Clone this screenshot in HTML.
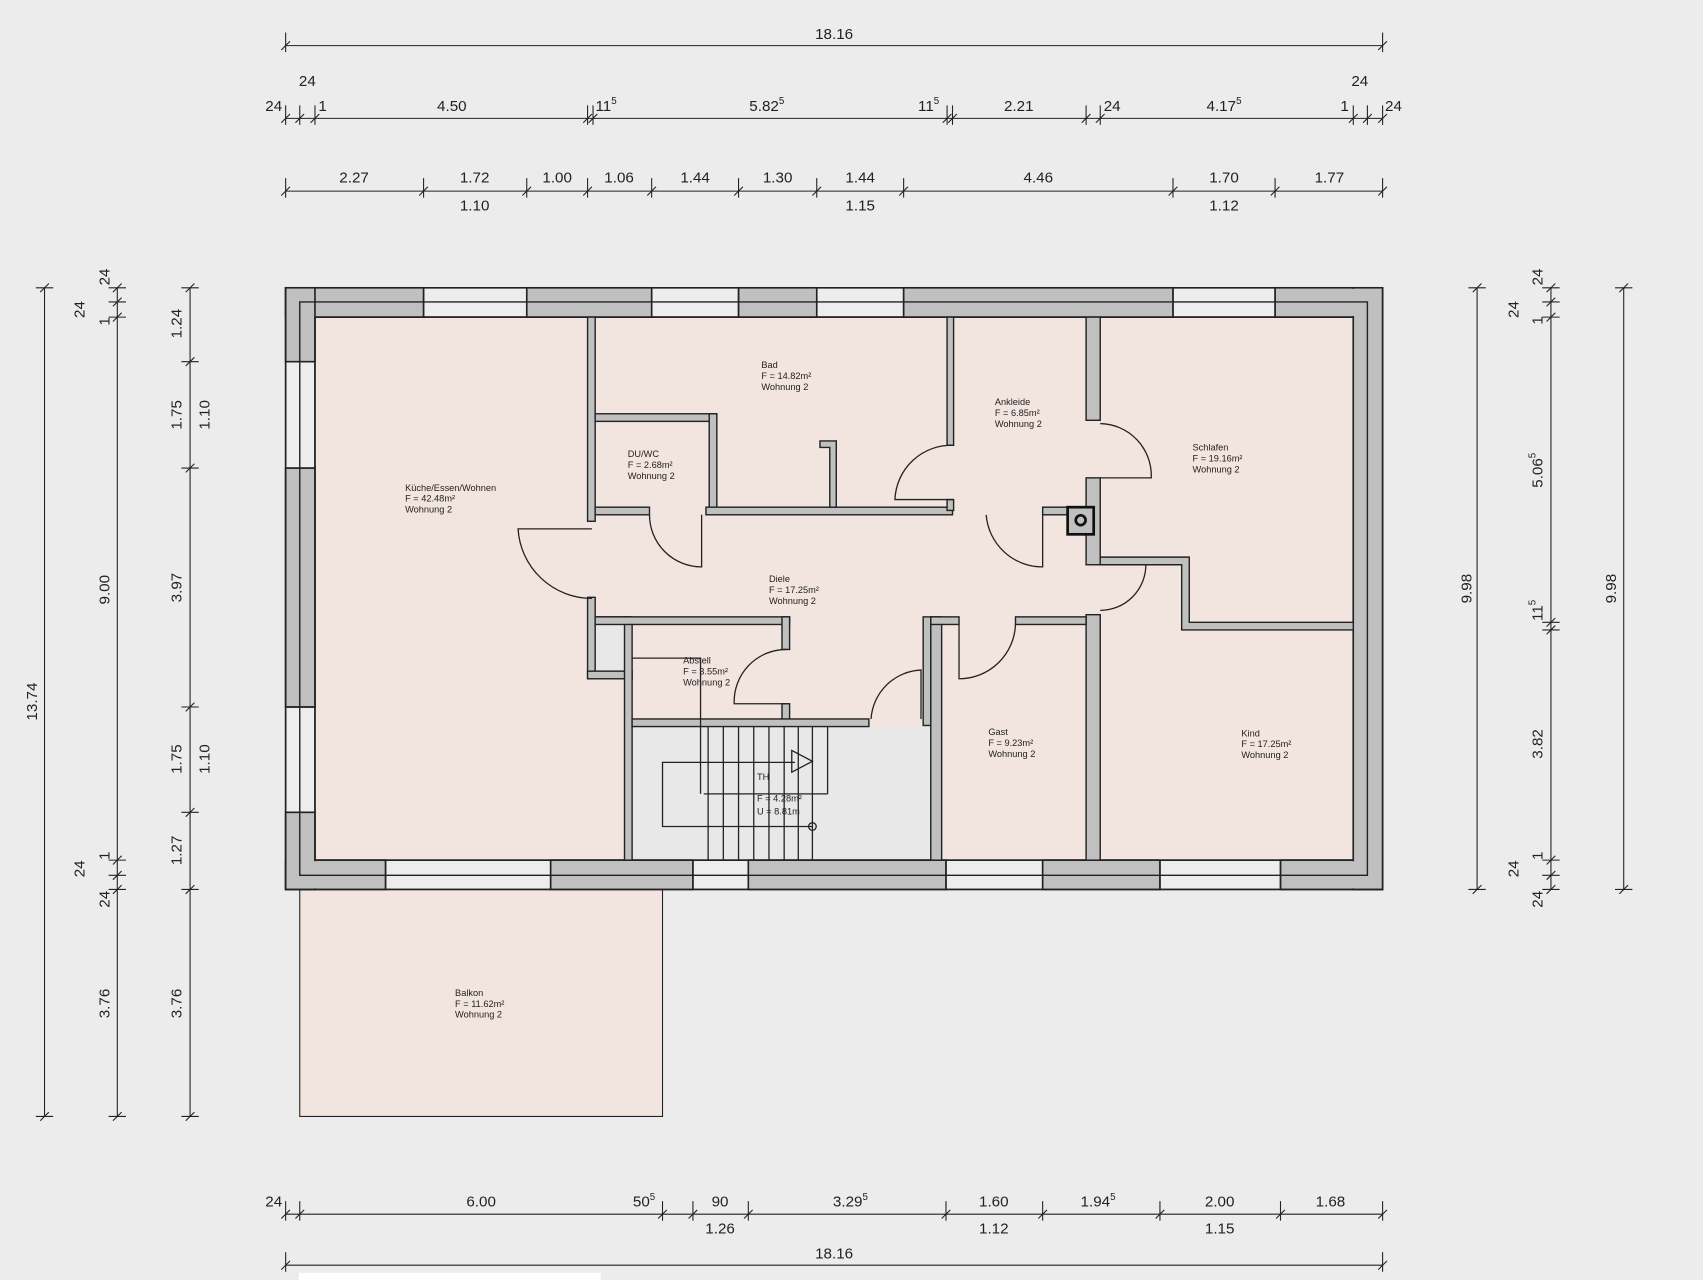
<!DOCTYPE html>
<html><head><meta charset="utf-8"><style>
html,body{margin:0;padding:0;background:#ececec;}
svg{display:block;}
text{font-family:"Liberation Sans",sans-serif;fill:#222;}
.d{font-size:14px;text-anchor:middle;}
.r{font-size:8.5px;fill:#333;}
</style></head><body>
<svg width="1703" height="1280" viewBox="0 0 1568 1178.6" preserveAspectRatio="none" xmlns="http://www.w3.org/2000/svg">
<defs>
<g id="th" stroke="#222" stroke-width="1"><line x1="0" y1="-12" x2="0" y2="6"/><line x1="-4" y1="4" x2="4" y2="-4"/></g>
<g id="tv" stroke="#222" stroke-width="1"><line x1="-8" y1="0" x2="8" y2="0"/><line x1="-4" y1="4" x2="4" y2="-4"/></g>
</defs>
<rect width="1568" height="1179" fill="#ececec"/>

<!-- balcony -->
<rect x="276" y="819" width="334" height="209" fill="#f2e5df" stroke="#222" stroke-width="1"/>

<!-- interior floor -->
<rect x="290" y="292" width="956" height="500" fill="#f2e5df"/>
<rect x="582" y="669" width="275" height="123" fill="#e8e8e8"/>

<!-- outer walls base (window color) -->
<g stroke="#222" stroke-width="1.5">
<path d="M263 265H1273V819H263Z M290 292V792H1246V292Z" fill="#ededed" fill-rule="evenodd"/>
</g>
<g fill="#c0c0c0" stroke="#222" stroke-width="1.5">
<!-- top -->
<rect x="263" y="265" width="127" height="27"/>
<rect x="485" y="265" width="115" height="27"/>
<rect x="680" y="265" width="72" height="27"/>
<rect x="832" y="265" width="248" height="27"/>
<rect x="1174" y="265" width="99" height="27"/>
<!-- bottom -->
<rect x="263" y="792" width="92" height="27"/>
<rect x="507" y="792" width="131" height="27"/>
<rect x="689" y="792" width="182" height="27"/>
<rect x="960" y="792" width="108" height="27"/>
<rect x="1179" y="792" width="94" height="27"/>
<!-- left -->
<rect x="263" y="265" width="27" height="68"/>
<rect x="263" y="431" width="27" height="220"/>
<rect x="263" y="748" width="27" height="71"/>
<!-- right -->
<rect x="1246" y="265" width="27" height="554"/>
</g>
<!-- cover internal edges of corners -->
<g fill="#c0c0c0">
<rect x="264" y="266" width="25" height="66"/>
<rect x="264" y="749" width="25" height="69"/>
<rect x="1247" y="266" width="25" height="552"/>
<rect x="1180" y="266" width="92" height="25"/>
<rect x="1180" y="793" width="92" height="25"/>
<rect x="264" y="793" width="90" height="25"/>
</g>
<g stroke="#222" stroke-width="1.3" fill="none">
<path d="M263 265H1273V819H263Z"/>
<path d="M290 292H1246V792H290Z"/>
<path d="M276 278H1259V806H276Z"/>
<line x1="390" y1="265" x2="390" y2="292"/><line x1="485" y1="265" x2="485" y2="292"/>
<line x1="600" y1="265" x2="600" y2="292"/><line x1="680" y1="265" x2="680" y2="292"/>
<line x1="752" y1="265" x2="752" y2="292"/><line x1="832" y1="265" x2="832" y2="292"/>
<line x1="1080" y1="265" x2="1080" y2="292"/><line x1="1174" y1="265" x2="1174" y2="292"/>
<line x1="355" y1="792" x2="355" y2="819"/><line x1="507" y1="792" x2="507" y2="819"/>
<line x1="638" y1="792" x2="638" y2="819"/><line x1="689" y1="792" x2="689" y2="819"/>
<line x1="871" y1="792" x2="871" y2="819"/><line x1="960" y1="792" x2="960" y2="819"/>
<line x1="1068" y1="792" x2="1068" y2="819"/><line x1="1179" y1="792" x2="1179" y2="819"/>
<line x1="263" y1="333" x2="290" y2="333"/><line x1="263" y1="431" x2="290" y2="431"/>
<line x1="263" y1="651" x2="290" y2="651"/><line x1="263" y1="748" x2="290" y2="748"/>
</g>

<!-- interior walls -->
<g fill="#c0c0c0" stroke="#222" stroke-width="1.3">
<rect x="541" y="292" width="7" height="188"/>
<rect x="541" y="550" width="7" height="75"/>
<rect x="548" y="568" width="29" height="50" fill="#e8e8e8"/>
<rect x="541" y="618" width="41" height="7"/>
<rect x="575" y="568" width="7" height="224"/>
<rect x="548" y="568" width="179" height="7"/>
<rect x="720" y="568" width="7" height="30"/>
<rect x="720" y="648" width="7" height="16"/>
<rect x="582" y="662" width="218" height="7"/>
<rect x="548" y="381" width="112" height="7"/>
<rect x="653" y="381" width="7" height="93"/>
<rect x="548" y="467" width="50" height="7"/>
<rect x="650" y="467" width="227" height="7"/>
<path d="M755 406H770V467H764V412H755Z"/>
<rect x="872" y="292" width="6" height="118"/>
<rect x="872" y="460" width="6" height="10"/>
<rect x="960" y="467" width="28" height="7"/>
<rect x="1000" y="292" width="13" height="95"/>
<rect x="1000" y="440" width="13" height="80"/>
<rect x="1000" y="566" width="13" height="226"/>
<path d="M1013 513H1095V573H1246V580H1088V520H1013Z"/>
<rect x="850" y="568" width="7" height="100"/>
<rect x="857" y="568" width="10" height="224"/>
<rect x="857" y="568" width="26" height="7"/>
<rect x="935" y="568" width="65" height="7"/>
</g>
<!-- chimney -->
<rect x="983" y="467" width="24" height="25" fill="#c0c0c0" stroke="#111" stroke-width="2.5"/>
<circle cx="995" cy="479" r="4.5" fill="none" stroke="#111" stroke-width="2.5"/>

<!-- doors -->
<g fill="none" stroke="#222" stroke-width="1.2">
<path d="M545 487H477A68 68 0 0 0 545 551"/>
<path d="M598 474A48 48 0 0 0 646 522V474"/>
<path d="M878 410A52 52 0 0 0 824 460H878"/>
<path d="M960 474V522A52 52 0 0 1 908 474"/>
<path d="M1013 390A48 48 0 0 1 1060 440H1013"/>
<path d="M1013 520H1055A42 42 0 0 1 1013 562"/>
<path d="M724 598A48 48 0 0 0 676 648H724"/>
<path d="M802 662A48 48 0 0 1 848 617V662"/>
<path d="M883 575V625A52 52 0 0 0 935 575"/>
</g>

<!-- stairs -->
<g fill="none" stroke="#222" stroke-width="1.2">
<line x1="652" y1="669" x2="652" y2="792"/><line x1="666" y1="669" x2="666" y2="792"/>
<line x1="680" y1="669" x2="680" y2="792"/><line x1="694" y1="669" x2="694" y2="792"/>
<line x1="708" y1="669" x2="708" y2="792"/><line x1="722" y1="669" x2="722" y2="792"/>
<line x1="735" y1="669" x2="735" y2="792"/><line x1="748" y1="669" x2="748" y2="792"/>
<line x1="762" y1="669" x2="762" y2="731"/>
<path d="M648 731H762"/>
<path d="M748 761H610V702H732"/>
<path d="M729 691L748 701L729 711Z"/>
<circle cx="748" cy="761" r="3.5"/>
<path d="M582 606H645V731"/>
</g>

<!-- room labels -->
<g class="r">
<text x="373" y="452">Küche/Essen/Wohnen</text><text x="373" y="462">F = 42.48m²</text><text x="373" y="472">Wohnung 2</text>
<text x="701" y="339">Bad</text><text x="701" y="349">F = 14.82m²</text><text x="701" y="359">Wohnung 2</text>
<text x="578" y="421">DU/WC</text><text x="578" y="431">F = 2.68m²</text><text x="578" y="441">Wohnung 2</text>
<text x="916" y="373">Ankleide</text><text x="916" y="383">F = 6.85m²</text><text x="916" y="393">Wohnung 2</text>
<text x="1098" y="415">Schlafen</text><text x="1098" y="425">F = 19.16m²</text><text x="1098" y="435">Wohnung 2</text>
<text x="708" y="536">Diele</text><text x="708" y="546">F = 17.25m²</text><text x="708" y="556">Wohnung 2</text>
<text x="629" y="611">Abstell</text><text x="629" y="621">F = 3.55m²</text><text x="629" y="631">Wohnung 2</text>
<text x="910" y="677">Gast</text><text x="910" y="687">F = 9.23m²</text><text x="910" y="697">Wohnung 2</text>
<text x="1143" y="678">Kind</text><text x="1143" y="688">F = 17.25m²</text><text x="1143" y="698">Wohnung 2</text>
<text x="697" y="718">TH</text><text x="697" y="738">F = 4.28m²</text><text x="697" y="750">U = 8.81m</text>
<text x="419" y="917">Balkon</text><text x="419" y="927">F = 11.62m²</text><text x="419" y="937">Wohnung 2</text>
</g>

<!-- dimension lines -->
<g stroke="#222" stroke-width="1">
<line x1="263" y1="42" x2="1273" y2="42"/>
<line x1="263" y1="109" x2="1273" y2="109"/>
<line x1="263" y1="176" x2="1273" y2="176"/>
<line x1="263" y1="1118" x2="1273" y2="1118"/>
<line x1="263" y1="1165" x2="1273" y2="1165"/>
<line x1="41" y1="265" x2="41" y2="1028"/>
<line x1="108" y1="265" x2="108" y2="1028"/>
<line x1="175" y1="265" x2="175" y2="1028"/>
<line x1="1360" y1="265" x2="1360" y2="819"/>
<line x1="1428" y1="265" x2="1428" y2="819"/>
<line x1="1495" y1="265" x2="1495" y2="819"/>
</g>
<g>
<use href="#th" x="263" y="42"/><use href="#th" x="1273" y="42"/>
<use href="#th" x="263" y="109"/><use href="#th" x="276" y="109"/><use href="#th" x="290" y="109"/><use href="#th" x="541" y="109"/><use href="#th" x="546" y="109"/><use href="#th" x="872" y="109"/><use href="#th" x="877" y="109"/><use href="#th" x="1000" y="109"/><use href="#th" x="1013" y="109"/><use href="#th" x="1246" y="109"/><use href="#th" x="1259" y="109"/><use href="#th" x="1273" y="109"/>
<use href="#th" x="263" y="176"/><use href="#th" x="390" y="176"/><use href="#th" x="485" y="176"/><use href="#th" x="541" y="176"/><use href="#th" x="600" y="176"/><use href="#th" x="680" y="176"/><use href="#th" x="752" y="176"/><use href="#th" x="832" y="176"/><use href="#th" x="1080" y="176"/><use href="#th" x="1174" y="176"/><use href="#th" x="1273" y="176"/>
<use href="#th" x="263" y="1118"/><use href="#th" x="276" y="1118"/><use href="#th" x="610" y="1118"/><use href="#th" x="638" y="1118"/><use href="#th" x="689" y="1118"/><use href="#th" x="871" y="1118"/><use href="#th" x="960" y="1118"/><use href="#th" x="1068" y="1118"/><use href="#th" x="1179" y="1118"/><use href="#th" x="1273" y="1118"/>
<use href="#th" x="263" y="1165"/><use href="#th" x="1273" y="1165"/>
<use href="#tv" x="41" y="265"/><use href="#tv" x="41" y="1028"/>
<use href="#tv" x="108" y="265"/><use href="#tv" x="108" y="278"/><use href="#tv" x="108" y="292"/><use href="#tv" x="108" y="792"/><use href="#tv" x="108" y="806"/><use href="#tv" x="108" y="819"/><use href="#tv" x="108" y="1028"/>
<use href="#tv" x="175" y="265"/><use href="#tv" x="175" y="333"/><use href="#tv" x="175" y="431"/><use href="#tv" x="175" y="651"/><use href="#tv" x="175" y="748"/><use href="#tv" x="175" y="819"/><use href="#tv" x="175" y="1028"/>
<use href="#tv" x="1360" y="265"/><use href="#tv" x="1360" y="819"/>
<use href="#tv" x="1428" y="265"/><use href="#tv" x="1428" y="278"/><use href="#tv" x="1428" y="292"/><use href="#tv" x="1428" y="573"/><use href="#tv" x="1428" y="580"/><use href="#tv" x="1428" y="792"/><use href="#tv" x="1428" y="806"/><use href="#tv" x="1428" y="819"/>
<use href="#tv" x="1495" y="265"/><use href="#tv" x="1495" y="819"/>
</g>

<g class="d">
<text x="768" y="36">18.16</text>
<text x="283" y="79">24</text><text x="1252" y="79">24</text>
<text x="252" y="102">24</text><text x="297" y="102">1</text><text x="416" y="102">4.50</text>
<text x="558" y="102">11<tspan font-size="9" dy="-6">5</tspan></text>
<text x="706" y="102">5.82<tspan font-size="9" dy="-6">5</tspan></text>
<text x="855" y="102">11<tspan font-size="9" dy="-6">5</tspan></text>
<text x="938" y="102">2.21</text><text x="1024" y="102">24</text>
<text x="1127" y="102">4.17<tspan font-size="9" dy="-6">5</tspan></text>
<text x="1238" y="102">1</text><text x="1283" y="102">24</text>
<text x="326" y="168">2.27</text><text x="437" y="168">1.72</text><text x="513" y="168">1.00</text><text x="570" y="168">1.06</text><text x="640" y="168">1.44</text><text x="716" y="168">1.30</text><text x="792" y="168">1.44</text><text x="956" y="168">4.46</text><text x="1127" y="168">1.70</text><text x="1224" y="168">1.77</text>
<text x="437" y="194">1.10</text><text x="792" y="194">1.15</text><text x="1127" y="194">1.12</text>
<text x="252" y="1111">24</text><text x="443" y="1111">6.00</text>
<text x="593" y="1111">50<tspan font-size="9" dy="-6">5</tspan></text>
<text x="663" y="1111">90</text>
<text x="783" y="1111">3.29<tspan font-size="9" dy="-6">5</tspan></text>
<text x="915" y="1111">1.60</text>
<text x="1011" y="1111">1.94<tspan font-size="9" dy="-6">5</tspan></text>
<text x="1123" y="1111">2.00</text><text x="1225" y="1111">1.68</text>
<text x="663" y="1136">1.26</text><text x="915" y="1136">1.12</text><text x="1123" y="1136">1.15</text>
<text x="768" y="1159">18.16</text>

<text transform="translate(34,646) rotate(-90)">13.74</text>
<text transform="translate(101,255) rotate(-90)">24</text>
<text transform="translate(78,285) rotate(-90)">24</text>
<text transform="translate(101,296) rotate(-90)">1</text>
<text transform="translate(101,543) rotate(-90)">9.00</text>
<text transform="translate(101,788) rotate(-90)">1</text>
<text transform="translate(78,800) rotate(-90)">24</text>
<text transform="translate(101,828) rotate(-90)">24</text>
<text transform="translate(101,924) rotate(-90)">3.76</text>
<text transform="translate(167,298) rotate(-90)">1.24</text>
<text transform="translate(167,382) rotate(-90)">1.75</text>
<text transform="translate(193,382) rotate(-90)">1.10</text>
<text transform="translate(167,541) rotate(-90)">3.97</text>
<text transform="translate(167,699) rotate(-90)">1.75</text>
<text transform="translate(193,699) rotate(-90)">1.10</text>
<text transform="translate(167,783) rotate(-90)">1.27</text>
<text transform="translate(167,924) rotate(-90)">3.76</text>
<text transform="translate(1355,542) rotate(-90)">9.98</text>
<text transform="translate(1420,255) rotate(-90)">24</text>
<text transform="translate(1398,285) rotate(-90)">24</text>
<text transform="translate(1420,295) rotate(-90)">1</text>
<text transform="translate(1420,433) rotate(-90)">5.06<tspan font-size="9" dy="-6">5</tspan></text>
<text transform="translate(1420,562) rotate(-90)">11<tspan font-size="9" dy="-6">5</tspan></text>
<text transform="translate(1420,685) rotate(-90)">3.82</text>
<text transform="translate(1420,788) rotate(-90)">1</text>
<text transform="translate(1398,800) rotate(-90)">24</text>
<text transform="translate(1420,828) rotate(-90)">24</text>
<text transform="translate(1488,542) rotate(-90)">9.98</text>
</g>
<rect x="275" y="1172" width="278" height="8" fill="#fff"/>
</svg>
</body></html>
